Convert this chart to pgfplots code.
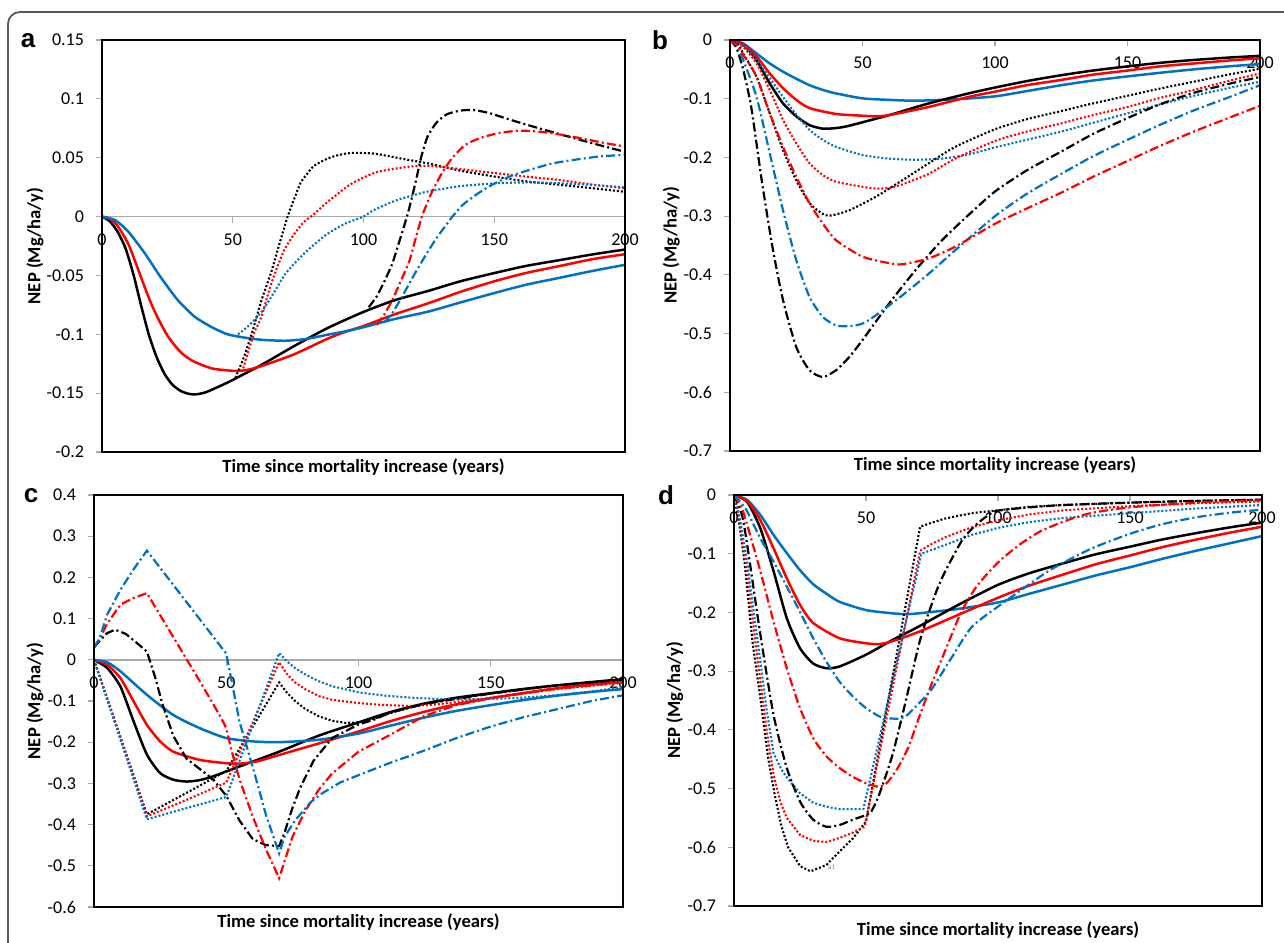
\documentclass[border=0pt]{standalone}
\usepackage{fontspec}
\setmainfont{Carlito}
\newfontfamily\letterfont{Liberation Sans}
\usepackage{pgfplots}
\pgfplotsset{compat=1.18}

\definecolor{xlblue}{RGB}{0,112,192}
\definecolor{xlred}{RGB}{255,0,0}
\definecolor{axgray}{RGB}{170,170,170}

\pgfplotsset{
  panel/.style={
    scale only axis,
    xmin=0, xmax=200,
    enlargelimits=false,
    axis x line=middle,
    axis y line=left,
    x axis line style={-, draw=axgray, line width=0.7pt},
    y axis line style={-, draw=none},
    xtick={0,50,100,150,200},
    xticklabels={0,50,100,150,200},
    tick align=outside,
    major tick length=3pt,
    xtick style={draw=axgray, line width=0.6pt},
    ytick style={draw=axgray, line width=0.6pt},
    hide obscured x ticks=false,
    hide obscured y ticks=false,
    tick label style={font=\fontsize{9}{10}\selectfont},
    yticklabel style={xshift=-2.5pt},
    xticklabel style={yshift=-2pt},
    clip mode=individual,
  },
  sol/.style={line width=1.25pt, smooth, tension=0.4},
  dot/.style={line width=1.05pt, dash pattern=on 1pt off 1pt},
  dd/.style={line width=1.1pt, dash pattern=on 4.5pt off 1.6pt on 1pt off 1.6pt},
  sm/.style={smooth, tension=0.4},
}
\newcommand{\axbox}{\draw[black, line width=1pt] (rel axis cs:0,0) rectangle (rel axis cs:1,1);}
\newcommand{\xlab}[1]{\node[font=\bfseries\fontsize{9.3}{10}\selectfont, yshift=#1] at (rel axis cs:0.5,0) {Time since mortality increase (years)};}
\newcommand{\ylab}[1]{\node[font=\bfseries\fontsize{9.3}{10}\selectfont, rotate=90] at (rel axis cs:#1,0.5) {NEP (Mg/ha/y)};}

\begin{document}
\begin{tikzpicture}
\useasboundingbox (0,0) rectangle (642pt,471pt);
\draw[line width=0.9pt, draw=black!65, rounded corners=6pt] (4pt,-10pt) -- (4pt,465pt) -- (660pt,465pt);

% ---------------- panel a ----------------
\begin{axis}[panel, at={(51pt,245pt)}, anchor=south west, width=261.5pt, height=206pt,
  ymin=-0.2, ymax=0.15,
  ytick={-0.2,-0.15,-0.1,-0.05,0,0.05,0.1,0.15},
  yticklabels={-0.2,-0.15,-0.1,-0.05,0,0.05,0.1,0.15}]
\addplot[sol, black] coordinates {(0,0) (3,-0.004) (6,-0.013) (9,-0.027) (12,-0.049) (15,-0.076) (18,-0.101) (21,-0.120) (24,-0.134) (27,-0.143) (30,-0.148) (33,-0.1505) (36,-0.151) (40,-0.149) (48,-0.141) (55,-0.133) (61,-0.126) (73.5,-0.110) (86,-0.095) (100,-0.081) (112,-0.071) (125,-0.063) (137,-0.055) (150,-0.048) (162,-0.042) (175,-0.037) (188,-0.032) (200,-0.028)};
\addplot[sol, xlred] coordinates {(0,0) (3,-0.002) (6,-0.008) (10,-0.023) (13,-0.040) (16,-0.058) (19,-0.075) (22,-0.089) (25,-0.101) (28,-0.110) (31,-0.117) (35,-0.123) (42,-0.129) (50,-0.131) (55,-0.1305) (61,-0.127) (73.5,-0.117) (86,-0.104) (93,-0.098) (100,-0.093) (112,-0.083) (125,-0.0735) (137,-0.064) (150,-0.055) (162,-0.048) (175,-0.042) (188,-0.036) (200,-0.032)};
\addplot[sol, xlblue] coordinates {(0,0) (5,-0.003) (10,-0.0127) (16.3,-0.031) (22.6,-0.052) (29,-0.071) (35.4,-0.085) (42,-0.094) (48,-0.100) (55,-0.103) (61,-0.1047) (70,-0.1055) (78,-0.104) (86,-0.1005) (93,-0.0975) (100,-0.094) (112,-0.087) (125,-0.0806) (137,-0.073) (150,-0.065) (162,-0.058) (175,-0.052) (188,-0.046) (200,-0.041)};
\addplot[dot, sm, black] coordinates {(51,-0.137) (54,-0.121) (56,-0.108) (58,-0.094) (61,-0.071) (64.6,-0.048) (68,-0.022) (71,0) (73.5,0.015) (76,0.029) (78,0.035) (81,0.043) (86,0.049) (90,0.052) (95,0.054) (104,0.0535) (115,0.049) (125,0.045) (137,0.039) (150,0.034) (162,0.030) (175,0.027) (188,0.024) (200,0.021)};
\addplot[dot, sm, xlred] coordinates {(54,-0.129) (58,-0.10) (61,-0.085) (64,-0.062) (67,-0.043) (70,-0.027) (73.5,-0.015) (77,-0.005) (81,0.002) (86,0.012) (90,0.019) (94,0.026) (98,0.031) (104,0.037) (110,0.040) (118,0.0425) (125,0.043) (133,0.0414) (150,0.037) (162,0.034) (175,0.031) (188,0.027) (200,0.024)};
\addplot[dot, sm, xlblue] coordinates {(52,-0.100) (56,-0.093) (61,-0.081) (64,-0.071) (67,-0.060) (70,-0.049) (73.5,-0.040) (77,-0.032) (80,-0.026) (86,-0.015) (93,-0.006) (100,0) (104,0.0056) (112.8,0.014) (124,0.021) (137,0.0258) (150,0.0282) (162.6,0.029) (175,0.0283) (188,0.0268) (200,0.0247)};
\addplot[dd, sm, black] coordinates {(102,-0.077) (105,-0.068) (108,-0.055) (111,-0.040) (114,-0.019) (117,0.003) (120,0.03) (122,0.05) (124.5,0.068) (128,0.08) (132,0.087) (137,0.09) (142,0.0905) (148,0.088) (155,0.083) (164,0.077) (175,0.07) (188,0.062) (200,0.055)};
\addplot[dd, sm, xlred] coordinates {(105,-0.092) (108,-0.083) (111,-0.071) (114,-0.056) (117.5,-0.038) (120,-0.018) (122.5,0.001) (126,0.02) (130,0.037) (134,0.05) (139,0.061) (145,0.067) (152,0.071) (160,0.073) (170,0.0715) (182,0.067) (191,0.063) (200,0.0595)};
\addplot[dd, sm, xlblue] coordinates {(108,-0.09) (111,-0.082) (114,-0.071) (117,-0.059) (120,-0.047) (124,-0.032) (128,-0.018) (131,-0.009) (134,0) (138,0.01) (144,0.02) (150,0.028) (157,0.035) (164,0.04) (172,0.045) (180,0.048) (190,0.051) (200,0.0525)};
\axbox
\xlab{-7.3pt}
\ylab{-0.128}
\end{axis}

% ---------------- panel b ----------------
\begin{axis}[panel, at={(365pt,245.5pt)}, anchor=south west, width=265pt, height=205.5pt,
  ymin=-0.7, ymax=0,
  ytick={-0.7,-0.6,-0.5,-0.4,-0.3,-0.2,-0.1,0},
  yticklabels={-0.7,-0.6,-0.5,-0.4,-0.3,-0.2,-0.1,0}]
\addplot[sol, xlblue] coordinates {(0,0) (5,-0.006) (10,-0.023) (15,-0.04) (20,-0.054) (25,-0.066) (30,-0.077) (35,-0.085) (40,-0.091) (50,-0.0994) (60,-0.102) (70,-0.1034) (85,-0.101) (100,-0.096) (112,-0.087) (125,-0.077) (137,-0.069) (150,-0.062) (162,-0.056) (175,-0.050) (188,-0.045) (200,-0.041)};
\addplot[sol, black] coordinates {(0,0) (5,-0.008) (10,-0.034) (15,-0.074) (20,-0.108) (25,-0.13) (30,-0.145) (35,-0.151) (40,-0.150) (45,-0.146) (60,-0.128) (75,-0.108) (90,-0.091) (100,-0.081) (112,-0.07) (125,-0.060) (137,-0.052) (150,-0.045) (162,-0.039) (175,-0.034) (188,-0.030) (200,-0.027)};
\addplot[sol, xlred] coordinates {(0,0) (5,-0.007) (10,-0.028) (15,-0.057) (20,-0.082) (25,-0.102) (30,-0.116) (40,-0.126) (50,-0.129) (55,-0.13) (60,-0.128) (75,-0.114) (90,-0.097) (100,-0.088) (112,-0.077) (125,-0.068) (137,-0.059) (150,-0.052) (162,-0.045) (175,-0.040) (188,-0.035) (200,-0.031)};
\addplot[dot, sm, xlblue] coordinates {(0,0) (5,-0.01) (10,-0.034) (15,-0.065) (20,-0.097) (25,-0.127) (30,-0.153) (35,-0.170) (40,-0.182) (50,-0.196) (60,-0.202) (70,-0.204) (80,-0.202) (90,-0.195) (100,-0.183) (112,-0.17) (125,-0.156) (137,-0.141) (150,-0.125) (162,-0.11) (175,-0.095) (188,-0.082) (200,-0.071)};
\addplot[dot, sm, xlred] coordinates {(0,0) (5,-0.012) (10,-0.04) (15,-0.085) (20,-0.136) (25,-0.176) (30,-0.21) (35,-0.23) (40,-0.2415) (50,-0.25) (55,-0.253) (60,-0.252) (65,-0.246) (75,-0.228) (85,-0.202) (100,-0.172) (112,-0.156) (125,-0.142) (137,-0.128) (150,-0.114) (162,-0.099) (175,-0.085) (188,-0.07) (200,-0.057)};
\addplot[dot, sm, black] coordinates {(0,0) (3,-0.008) (5,-0.023) (10,-0.0625) (15,-0.125) (20,-0.1875) (25,-0.239) (30,-0.278) (35,-0.296) (38,-0.299) (45,-0.29) (55,-0.267) (65,-0.239) (75,-0.21) (85,-0.182) (100,-0.152) (112,-0.135) (125,-0.121) (137,-0.108) (150,-0.095) (162,-0.083) (175,-0.071) (188,-0.059) (200,-0.049)};
\addplot[dd, sm, black] coordinates {(0,0) (2,-0.01) (3,-0.02) (5,-0.051) (8,-0.114) (12,-0.24) (16,-0.352) (20,-0.443) (25,-0.523) (30,-0.5625) (35,-0.574) (40,-0.5625) (45,-0.54) (50,-0.511) (60,-0.449) (70,-0.392) (80,-0.341) (90,-0.298) (100,-0.258) (112,-0.222) (125,-0.19) (137,-0.16) (150,-0.133) (162,-0.11) (175,-0.09) (188,-0.075) (200,-0.063)};
\addplot[dd, sm, xlblue] coordinates {(0,0) (3,-0.012) (5,-0.034) (10,-0.097) (15,-0.193) (20,-0.29) (25,-0.375) (30,-0.4375) (35,-0.4716) (40,-0.486) (45,-0.4875) (50,-0.483) (55,-0.469) (65,-0.435) (75,-0.398) (85,-0.358) (100,-0.30) (112,-0.262) (125,-0.228) (137,-0.198) (150,-0.17) (162,-0.145) (175,-0.12) (188,-0.098) (200,-0.077)};
\addplot[dd, sm, xlred] coordinates {(0,0) (3,-0.01) (5,-0.025) (10,-0.0625) (15,-0.125) (20,-0.182) (25,-0.233) (30,-0.278) (35,-0.3125) (40,-0.341) (50,-0.369) (60,-0.38) (65,-0.382) (75,-0.372) (85,-0.352) (100,-0.313) (112,-0.287) (125,-0.26) (137,-0.233) (150,-0.206) (162,-0.181) (175,-0.156) (188,-0.133) (200,-0.112)};
\axbox
\xlab{-7pt}
\ylab{-0.111}
\end{axis}

% ---------------- panel c ----------------
\begin{axis}[panel, at={(47pt,17.5pt)}, anchor=south west, width=264.5pt, height=206pt,
  ymin=-0.6, ymax=0.4,
  ytick={-0.6,-0.5,-0.4,-0.3,-0.2,-0.1,0,0.1,0.2,0.3,0.4},
  yticklabels={-0.6,-0.5,-0.4,-0.3,-0.2,-0.1,0,0.1,0.2,0.3,0.4}]
\addplot[sol, black] coordinates {(0,0) (5,-0.02) (10,-0.065) (15,-0.15) (20,-0.23) (25,-0.275) (30,-0.291) (35,-0.2955) (40,-0.292) (45,-0.283) (55,-0.259) (70,-0.223) (85,-0.184) (100,-0.152) (112,-0.127) (125,-0.106) (137,-0.092) (150,-0.081) (162,-0.071) (175,-0.062) (188,-0.054) (200,-0.047)};
\addplot[sol, xlred] coordinates {(0,0) (5,-0.012) (10,-0.0445) (15,-0.101) (20,-0.158) (25,-0.198) (30,-0.223) (40,-0.243) (50,-0.251) (55,-0.252) (62,-0.246) (70,-0.231) (85,-0.203) (100,-0.174) (112,-0.149) (125,-0.126) (137,-0.108) (150,-0.093) (162,-0.081) (175,-0.069) (188,-0.06) (200,-0.053)};
\addplot[sol, xlblue] coordinates {(0,0) (5,-0.006) (10,-0.028) (20,-0.085) (30,-0.134) (40,-0.166) (50,-0.19) (60,-0.198) (70,-0.2) (85,-0.194) (100,-0.179) (112,-0.16) (125,-0.14) (137,-0.124) (150,-0.11) (162,-0.098) (175,-0.087) (188,-0.078) (200,-0.071)};
\addplot[dot, black] coordinates {(0,0) (20,-0.375) (35,-0.323) (50,-0.27) (70,-0.055) (73,-0.08) (76,-0.1) (80,-0.12) (85,-0.137) (90,-0.148) (95,-0.153) (100,-0.152) (106,-0.143) (112,-0.129) (125,-0.107) (137,-0.093) (150,-0.082) (175,-0.062) (200,-0.048)};
\addplot[dot, xlred] coordinates {(0,0) (20,-0.38) (35,-0.34) (50,-0.298) (70,-0.006) (73,-0.035) (76,-0.055) (80,-0.072) (85,-0.088) (90,-0.097) (100,-0.105) (110,-0.11) (120,-0.112) (130,-0.108) (140,-0.1) (150,-0.092) (162,-0.082) (175,-0.071) (188,-0.063) (200,-0.056)};
\addplot[dot, xlblue] coordinates {(0,0) (20,-0.387) (35,-0.36) (50,-0.333) (70,0.016) (73,-0.004) (76,-0.02) (80,-0.036) (85,-0.052) (90,-0.064) (100,-0.079) (110,-0.087) (120,-0.092) (130,-0.095) (140,-0.096) (150,-0.095) (162,-0.092) (175,-0.086) (188,-0.077) (200,-0.066)};
\addplot[dd, black] coordinates {(0,0.03) (2,0.045) (5,0.065) (8,0.073) (12,0.063) (16,0.042) (20,0.02) (23,-0.04) (26,-0.11) (30,-0.185) (35,-0.24) (40,-0.265) (45,-0.29) (50,-0.33) (55,-0.39) (60,-0.435) (65,-0.45) (70,-0.452) (72,-0.42) (75,-0.36) (78,-0.31) (83,-0.245) (90,-0.19) (100,-0.157) (106,-0.145) (112,-0.128) (125,-0.107) (150,-0.082) (175,-0.062) (200,-0.048)};
\addplot[dd, xlred] coordinates {(0,0.03) (2,0.05) (5,0.088) (10,0.134) (15,0.15) (20,0.162) (30,0.055) (40,-0.052) (48,-0.14) (50,-0.166) (52,-0.22) (55,-0.29) (60,-0.38) (65,-0.46) (70,-0.53) (75,-0.43) (80,-0.365) (85,-0.315) (90,-0.276) (100,-0.223) (112,-0.182) (125,-0.136) (137,-0.11) (150,-0.093) (162,-0.082) (175,-0.07) (188,-0.062) (200,-0.054)};
\addplot[dd, xlblue] coordinates {(0,0.03) (2,0.05) (5,0.11) (10,0.17) (15,0.22) (20,0.265) (50,0.015) (52,-0.05) (55,-0.15) (60,-0.26) (65,-0.376) (70,-0.47) (72,-0.43) (76,-0.39) (82,-0.345) (86,-0.325) (93,-0.298) (100,-0.28) (112,-0.25) (125,-0.22) (137,-0.19) (150,-0.162) (162,-0.14) (175,-0.12) (188,-0.1) (200,-0.086)};
\axbox
\xlab{-7.5pt}
\ylab{-0.1115}
\end{axis}

% ---------------- panel d ----------------
\begin{axis}[panel, at={(367pt,18pt)}, anchor=south west, width=264pt, height=205.5pt,
  ymin=-0.7, ymax=0,
  ytick={-0.7,-0.6,-0.5,-0.4,-0.3,-0.2,-0.1,0},
  yticklabels={-0.7,-0.6,-0.5,-0.4,-0.3,-0.2,-0.1,0}]
\addplot[sol, xlblue] coordinates {(0,0) (5,-0.0085) (10,-0.034) (15,-0.068) (20,-0.099) (25,-0.128) (30,-0.152) (35,-0.168) (40,-0.182) (50,-0.196) (60,-0.2015) (65,-0.203) (70,-0.2015) (85,-0.194) (100,-0.183) (112,-0.168) (125,-0.152) (137,-0.137) (150,-0.123) (162,-0.109) (175,-0.095) (188,-0.082) (200,-0.07)};
\addplot[sol, black] coordinates {(0,0) (5,-0.012) (10,-0.057) (15,-0.13) (20,-0.21) (25,-0.261) (30,-0.287) (35,-0.295) (40,-0.292) (50,-0.272) (60,-0.247) (70,-0.224) (85,-0.187) (100,-0.153) (112,-0.133) (125,-0.116) (137,-0.101) (150,-0.088) (162,-0.076) (175,-0.065) (188,-0.055) (200,-0.047)};
\addplot[sol, xlred] coordinates {(0,0) (5,-0.01) (10,-0.043) (15,-0.091) (20,-0.142) (25,-0.187) (30,-0.218) (40,-0.244) (50,-0.2525) (55,-0.254) (60,-0.249) (70,-0.233) (85,-0.204) (100,-0.175) (112,-0.154) (125,-0.135) (137,-0.118) (150,-0.103) (162,-0.089) (175,-0.076) (188,-0.064) (200,-0.054)};
\addplot[dot, black] coordinates {(0,0) (2,-0.05) (4,-0.114) (7,-0.25) (10.4,-0.36) (13,-0.45) (15.4,-0.51) (18,-0.565) (20.5,-0.6) (25,-0.632) (29,-0.641) (35,-0.63) (40,-0.607) (45,-0.585) (50,-0.556) (70.5,-0.054) (75,-0.047) (80,-0.04) (90,-0.031) (100,-0.026) (112,-0.02) (125,-0.017) (150,-0.013) (175,-0.01) (200,-0.008)};
\addplot[dot, xlred] coordinates {(0,0) (2,-0.04) (5,-0.13) (7.5,-0.23) (10,-0.318) (12.5,-0.405) (15,-0.477) (17.5,-0.522) (20,-0.55) (25,-0.579) (30,-0.589) (35,-0.591) (40,-0.584) (45,-0.575) (49.5,-0.565) (70.5,-0.095) (75,-0.083) (80,-0.072) (90,-0.055) (100,-0.043) (112,-0.033) (125,-0.026) (150,-0.019) (175,-0.014) (200,-0.011)};
\addplot[dot, xlblue] coordinates {(0,0) (2,-0.035) (5,-0.114) (7.5,-0.2) (10,-0.284) (12.5,-0.37) (15,-0.44) (18,-0.468) (20,-0.481) (25,-0.508) (30,-0.524) (35,-0.531) (40,-0.535) (49,-0.535) (71,-0.1) (80,-0.085) (90,-0.068) (100,-0.056) (112,-0.046) (125,-0.039) (150,-0.031) (175,-0.023) (200,-0.017)};
\addplot[dd, sm, black] coordinates {(0,0) (3,-0.034) (5,-0.085) (10,-0.238) (15,-0.375) (20,-0.465) (25,-0.522) (30,-0.553) (35,-0.565) (40,-0.562) (45,-0.553) (50,-0.545) (52,-0.539) (55,-0.51) (60,-0.443) (65,-0.352) (70,-0.255) (73.5,-0.204) (77,-0.16) (80,-0.13) (86,-0.08) (90,-0.058) (94,-0.042) (98.7,-0.028) (105,-0.024) (112,-0.021) (125,-0.017) (150,-0.013) (175,-0.01) (200,-0.008)};
\addplot[dd, sm, xlred] coordinates {(0,0) (3,-0.023) (5,-0.051) (10,-0.13) (15,-0.216) (20,-0.295) (25,-0.363) (30,-0.414) (35,-0.445) (40,-0.465) (45,-0.48) (50,-0.491) (55,-0.497) (58,-0.49) (62,-0.465) (66,-0.43) (70,-0.38) (75,-0.32) (80,-0.265) (86,-0.2) (92,-0.155) (100,-0.115) (108,-0.085) (116,-0.062) (125,-0.045) (135,-0.031) (150,-0.021) (175,-0.013) (200,-0.009)};
\addplot[dd, sm, xlblue] coordinates {(0,0) (3,-0.015) (5,-0.028) (10,-0.074) (15,-0.1135) (20,-0.156) (25,-0.199) (30,-0.244) (35,-0.284) (40,-0.318) (45,-0.343) (50,-0.363) (55,-0.377) (58,-0.38) (62,-0.381) (65,-0.377) (70,-0.355) (75,-0.33) (82,-0.28) (90,-0.225) (100,-0.19) (110,-0.158) (120,-0.127) (135,-0.092) (150,-0.066) (162,-0.05) (175,-0.038) (188,-0.03) (200,-0.025)};
\node[font=\fontsize{3.5}{4}\selectfont, text=gray] at (axis cs:37,-0.634) {a1};
\axbox
\xlab{-12pt}
\ylab{-0.112}
\end{axis}

\node[font=\letterfont\bfseries\fontsize{13}{13}\selectfont] at (14pt,450.5pt) {a};
\node[font=\letterfont\bfseries\fontsize{13}{13}\selectfont] at (330pt,451pt) {b};
\node[font=\letterfont\bfseries\fontsize{13}{13}\selectfont] at (15.5pt,223pt) {c};
\node[font=\letterfont\bfseries\fontsize{13}{13}\selectfont] at (333pt,223.5pt) {d};
\end{tikzpicture}
\end{document}
